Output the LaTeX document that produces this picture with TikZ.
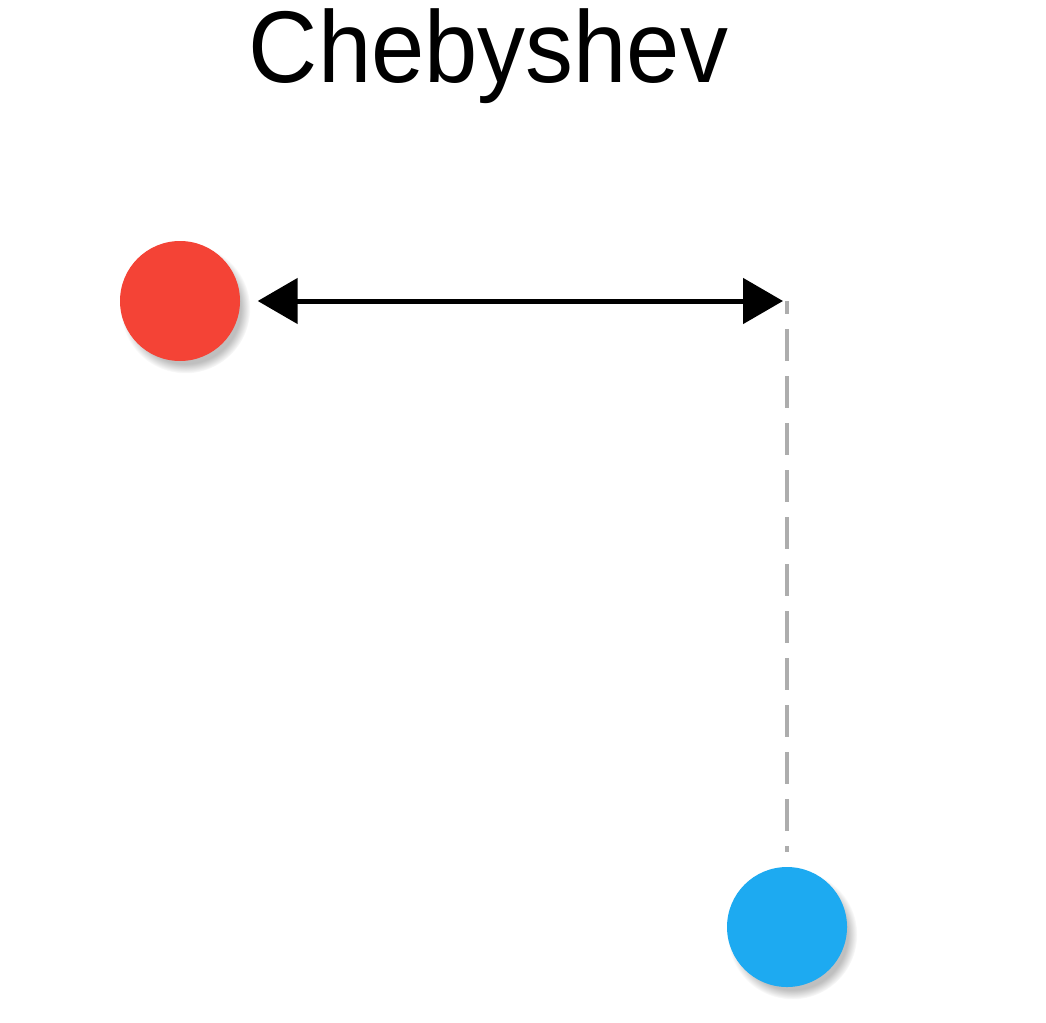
\documentclass[tikz,border=0pt]{standalone}
\usepackage{fontspec}
\setmainfont{Liberation Sans}
\usetikzlibrary{arrows.meta,shadows}
\definecolor{pointred}{HTML}{F44336}
\definecolor{pointblue}{HTML}{1DAAF1}
\def\dotsize{1.2cm}

\begin{document}
\begin{tikzpicture}
    \tikzstyle{point} = [circle, minimum size=\dotsize, inner sep=0pt, circular drop shadow={shadow xshift=0.05cm, shadow yshift=-0.07cm, opacity=0.5, shadow scale=1.08}]
    \tikzstyle{span} = [draw=black, line width=0.05cm, {Triangle[length=0.4cm,width=0.45cm]}-{Triangle[length=0.4cm,width=0.45cm]}]
    \tikzstyle{projection} = [draw=black!32, line width=0.04cm, dash pattern=on 0.32cm off 0.15cm, dash phase=0.19cm]
    \tikzstyle{title} = [font=\fontsize{29}{34}\selectfont, anchor=base, inner sep=0pt, xscale=0.94]

    \useasboundingbox (0,0) rectangle (10.46,-10.22);

    %%% DRAW THE NODES
    \node[title] (T) at (4.885,-0.83) {Chebyshev};
    \node[point, fill=pointred] (P-1) at (1.80,-3.01) {};
    \node[point, fill=pointblue] (P-2) at (7.87,-9.27) {};
    \coordinate (C) at (P-2.north |- P-1);

    %%% DRAW THE PATHS
    \path[span] (P-1) edge[shorten <=0.17cm, shorten >=0.04cm] (C);
    \path[projection] (C) edge[shorten >=0.14cm] (P-2);

\end{tikzpicture}
\end{document}
